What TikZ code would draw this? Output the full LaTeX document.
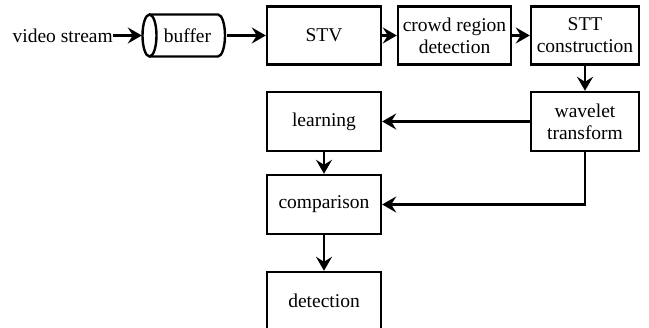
\documentclass[tikz,border=0pt]{standalone}
\usepackage{fontspec}
\setmainfont{Liberation Serif}
\usetikzlibrary{arrows.meta}
\begin{document}
\begin{tikzpicture}[x=1pt,y=-1pt,
  lbl/.style={font=\fontsize{19.5}{22}\selectfont, inner sep=0pt, align=center},
  box/.style={lbl, draw, line width=2.4pt, minimum width=114pt, minimum height=58pt},
  conn/.style={line width=2.4pt, -{Stealth[length=14pt,width=16pt,inset=5pt]}}]
\useasboundingbox (0,0) rectangle (649,328);
\clip (0,0) rectangle (649,328);
% input text and buffer
\node[lbl, anchor=east] (vs) at (113,35.5) {video stream};
\node[lbl, minimum width=85pt, minimum height=42pt] (buffer) at (184.5,35.5) {\hspace{6pt}buffer};
\draw[line width=2.4pt] (149.5,14.5) -- (218,14.5)
  arc[start angle=-90, end angle=90, x radius=7, y radius=21] -- (149.5,56.5);
\draw[line width=2.4pt] (149.5,35.5) ellipse[x radius=7, y radius=21];
% boxes
\node[box] (stv) at (324,35.5) {STV};
\node[box, minimum width=113pt] (crowd) at (454.5,35.5) {crowd region\\detection};
\node[box, minimum width=108pt] (stt) at (585,35.5) {STT\\construction};
\node[box, minimum width=108pt, minimum height=59pt] (wave) at (585,121.5) {wavelet\\transform};
\node[box, minimum height=59pt] (learn) at (324,121.5) {learning};
\node[box, minimum height=59pt] (comp) at (324,204.5) {comparison};
\node[box] (det) at (324,301) {detection};
% connectors
\draw[conn] (vs.east) -- (buffer.west);
\draw[conn] (buffer.east) -- (stv.west);
\draw[conn] (stv.east) -- (crowd.west);
\draw[conn] (crowd.east) -- (stt.west);
\draw[conn] (stt.south) -- (wave.north);
\draw[conn] (wave.west) -- (learn.east);
\draw[conn] (learn.south) -- (comp.north);
\draw[conn] (wave.south) |- (comp.east);
\draw[conn] (comp.south) -- (det.north);
\end{tikzpicture}
\end{document}
